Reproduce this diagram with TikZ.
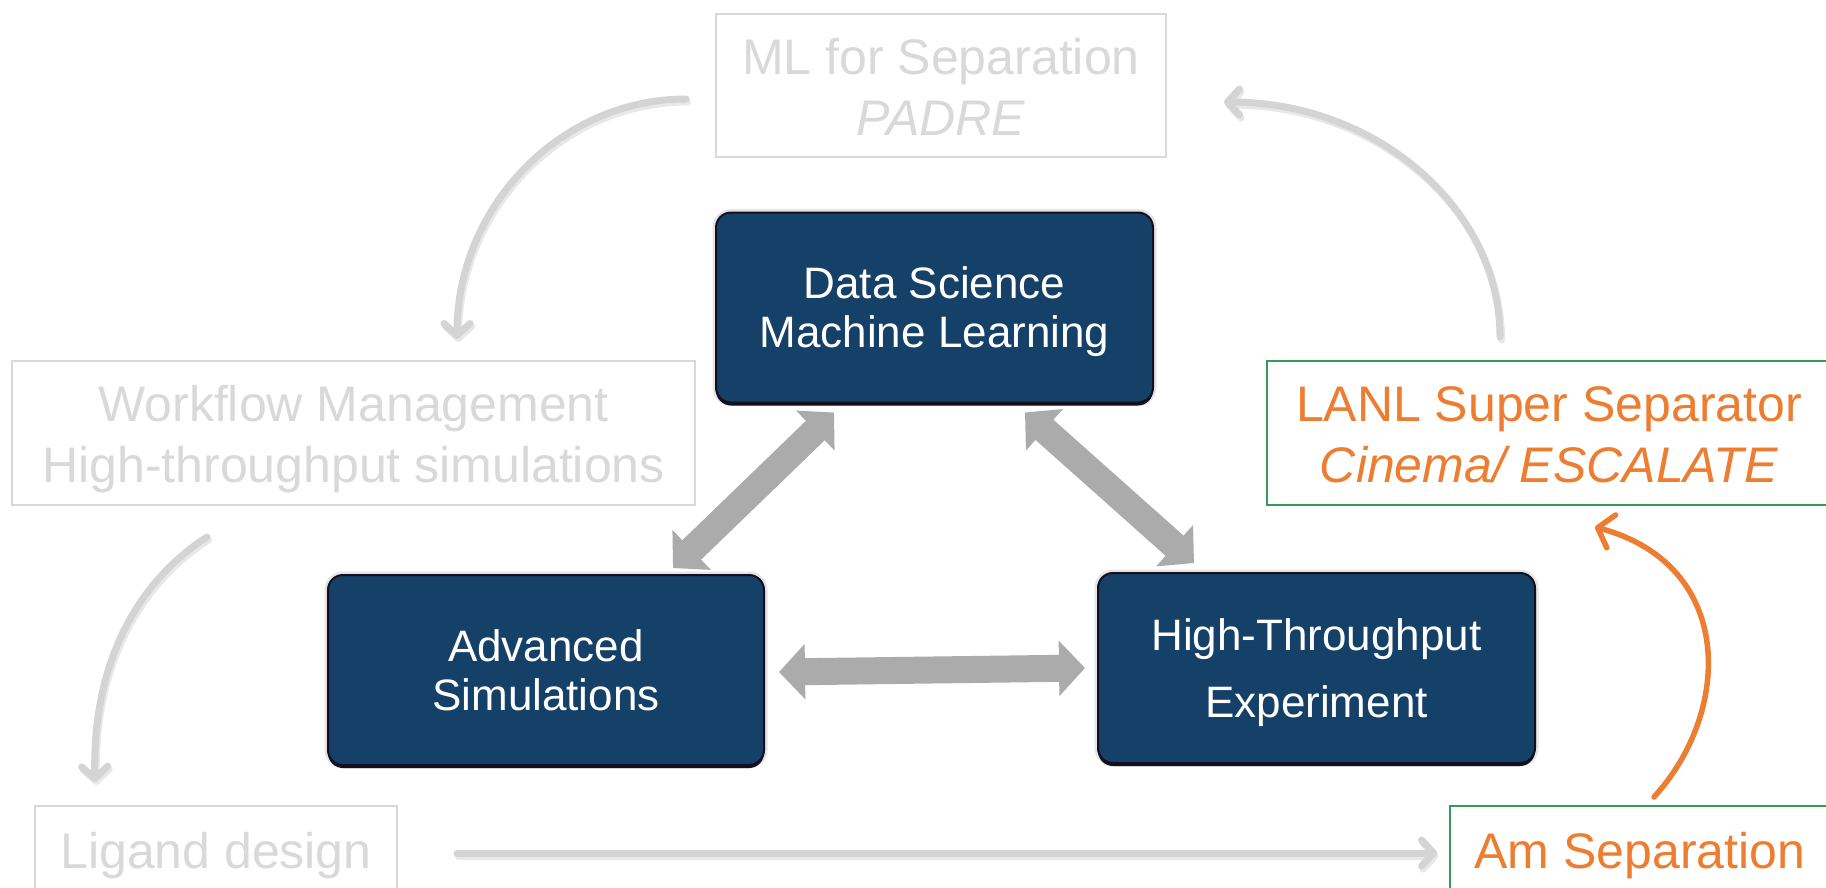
\documentclass[tikz,border=0pt]{standalone}
\usepackage{fontspec}
\setmainfont{Liberation Sans}
\usetikzlibrary{arrows.meta,calc}

\definecolor{navy}{RGB}{21,64,104}
\definecolor{navyedge}{RGB}{18,16,31}
\definecolor{faint}{RGB}{217,217,217}
\definecolor{curvegray}{RGB}{212,212,212}
\definecolor{blockgray}{RGB}{171,171,171}
\definecolor{accent}{RGB}{237,125,49}
\definecolor{frame}{RGB}{52,154,94}

\begin{document}
\begin{tikzpicture}[x=1pt,y=-1pt,
  darkbox/.style={rectangle, rounded corners=15pt, fill=navy,
    draw=navyedge, line width=2pt, inner sep=0pt, align=center,
    text=white, font=\fontsize{44}{49}\selectfont,
    preaction={draw=black!10, line width=7pt},
    preaction={fill=navyedge, transform canvas={yshift=-3pt}}},
  lightbox/.style={rectangle, draw=faint, line width=2pt, inner sep=0pt,
    align=center, text=faint, font=\fontsize{50}{61}\selectfont},
  hotbox/.style={rectangle, draw=frame, line width=2pt, inner sep=0pt,
    align=center, text=accent, font=\fontsize{50}{61}\selectfont},
  blockarrow/.style={draw=blockgray, line width=27pt,
    {Triangle[width=54pt,length=26pt]}-{Triangle[width=54pt,length=26pt]}},
  softarrow/.style={draw=curvegray, line width=7pt, line cap=round,
    -{Straight Barb[length=12pt,width=26pt,round]}},
  softshadow/.style={draw=black!9, line width=7pt, line cap=round,
    transform canvas={shift={(1.5pt,-3pt)}},
    -{Straight Barb[length=12pt,width=26pt,round]}},
  hotarrow/.style={draw=accent, line width=5.5pt, line cap=round,
    -{Straight Barb[length=14pt,width=34pt,round]}}
]
\clip (0,0) rectangle (1826,887);
\fill[white] (0,0) rectangle (1826,887);

% outer ring of tools
\node[lightbox, text height=110pt, text depth=11pt, minimum width=450pt,
  minimum height=143pt] (ml) at (941,85.5) {ML for Separation\\\textit{PADRE}};
\node[lightbox, text height=108pt, text depth=10pt, minimum width=683pt,
  minimum height=144pt] (wf) at (353.5,433)
  {Workflow Management\\High-throughput simulations};
\node[hotbox, text height=108pt, text depth=10pt, minimum width=564pt,
  minimum height=144pt] (lanl) at (1549,433)
  {LANL Super Separator\\\textit{Cinema/ ESCALATE}};
\node[lightbox, text height=45pt, text depth=20pt, minimum width=362pt,
  minimum height=99pt] (lig) at (216,855.5) {Ligand design};
\node[hotbox, text height=45pt, text depth=20pt, minimum width=380pt,
  minimum height=99pt] (am) at (1640,855.5) {Am Separation};

% core triangle
\node[darkbox, text height=90pt, text depth=11pt, minimum width=437pt,
  minimum height=190pt] (ds) at (934.5,307.5) {Data Science\\Machine Learning};
\node[darkbox, text height=90pt, text depth=10pt, minimum width=436pt,
  minimum height=190pt] (as) at (546,670) {Advanced\\Simulations};
\node[darkbox, text height=108pt, text depth=10pt, minimum width=437pt,
  minimum height=190pt] (ht) at (1316.5,668) {High-Throughput\\[18pt]Experiment};

% two-way links inside the triangle
\draw[blockarrow] ($(ds.south)+(-100.5,9)$) -- ($(as.north)+(127,-6)$);
\draw[blockarrow] ($(ds.south)+(90.5,9)$) -- ($(ht.north)+(-122.5,-9)$);
\draw[blockarrow] ($(as.east)+(14,2)$) -- ($(ht.west)+(-12,0)$);

% flow around the outer ring
\draw[softshadow] ($(ml.west)+(-29,13.5)$) .. controls (560,99) and (457,207) .. ($(wf.north)+(103.5,-21)$);
\draw[softarrow] ($(ml.west)+(-29,13.5)$) .. controls (560,99) and (457,207) .. ($(wf.north)+(103.5,-21)$);

\draw[softshadow] ($(lanl.north)+(-49,-23)$) .. controls (1500,208) and (1376,102) .. ($(ml.east)+(57,16.5)$);
\draw[softarrow] ($(lanl.north)+(-49,-23)$) .. controls (1500,208) and (1376,102) .. ($(ml.east)+(57,16.5)$);

\draw[softshadow] ($(wf.south)+(-146.5,31)$) .. controls (140,580) and (92,660) .. ($(lig.north)+(-121,-23)$);
\draw[softarrow] ($(wf.south)+(-146.5,31)$) .. controls (140,580) and (92,660) .. ($(lig.north)+(-121,-23)$);

\draw[softshadow] ($(lig.east)+(59,-2.5)$) -- ($(am.west)+(-12,-2.5)$);
\draw[softarrow] ($(lig.east)+(59,-2.5)$) -- ($(am.west)+(-12,-2.5)$);

\draw[hotarrow] ($(am.north)+(14,-8)$) .. controls (1732,712) and (1736,565) .. ($(lanl.south)+(46,21)$);
\end{tikzpicture}
\end{document}
